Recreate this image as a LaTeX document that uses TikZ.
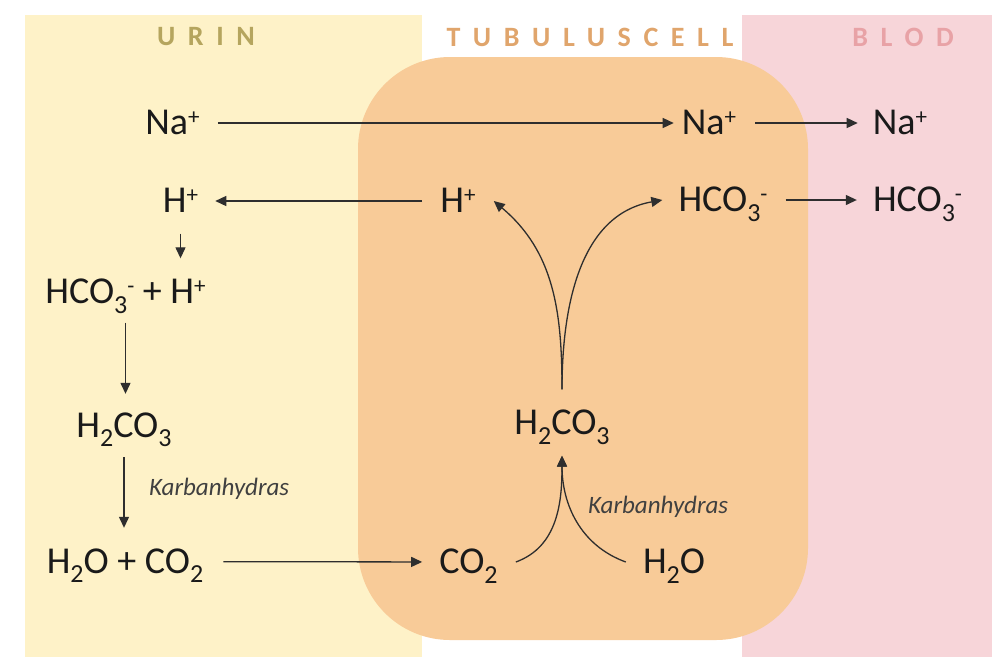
\documentclass[tikz,border=0pt]{standalone}
\usepackage{fontspec}
\setmainfont{Carlito}
\newfontfamily\headfont[LetterSpace=45]{Carlito}
\usetikzlibrary{arrows.meta}
\definecolor{urinbg}{HTML}{FEF2C8}
\definecolor{cellbg}{HTML}{F8CB98}
\definecolor{blodbg}{HTML}{F7D5D9}
\definecolor{urinhd}{HTML}{B5A55E}
\definecolor{cellhd}{HTML}{E0A56C}
\definecolor{blodhd}{HTML}{E8A2A6}
\definecolor{ink}{HTML}{1A1A1A}
\definecolor{wire}{HTML}{2E2E2E}
\definecolor{note}{HTML}{404040}
\newcommand\hoch[1]{\raisebox{.27em}{\fontsize{23pt}{23pt}\selectfont#1}}
\newcommand\tief[1]{\raisebox{-.25em}{\fontsize{26pt}{26pt}\selectfont#1}}
\tikzset{
  head/.style={font=\headfont\bfseries\fontsize{28pt}{30pt}\selectfont,inner sep=0pt},
  ion/.style={font=\fontsize{38pt}{42pt}\selectfont,text=ink,inner sep=0pt,text height=23pt,text depth=0pt},
  enz/.style={font=\itshape\fontsize{25pt}{28pt}\selectfont,text=note,inner sep=0pt},
  ar/.style={-{Triangle[length=11pt,width=10pt]},draw=wire,line width=1.3pt,shorten <=18pt,shorten >=17pt},
  cv/.style={-{Triangle[length=11pt,width=10pt]},draw=wire,line width=1.3pt},
}
\begin{document}
\begin{tikzpicture}[x=1pt,y=-1pt]
  \useasboundingbox (0,0) rectangle (992,670);
  % zones
  \fill[urinbg] (25,15) rectangle (422,657);
  \fill[blodbg] (742,15) rectangle (992,657);
  \fill[cellbg,rounded corners=92pt] (358,57) rectangle (808,640);
  \node[head,text=urinhd] (urin) at (206,37) {URIN};
  \node[head,text=cellhd] (cell) at (590,37) {TUBULUSCELL};
  \node[head,text=blodhd] (blod) at (903,37) {BLOD};

  % urin
  \node[ion] (naU) at (172.5,123) {Na\hoch{+}};
  \node[ion] (hU) at (180.5,201) {H\hoch{+}};
  \node[ion] (sumU) at (125.5,292) {HCO\tief{3}\hoch{-} + H\hoch{+}};
  \node[ion] (h2co3U) at (124,425.5) {H\tief{2}CO\tief{3}};
  \node[ion] (prodU) at (125,561.5) {H\tief{2}O + CO\tief{2}};
  \node[enz,anchor=base west] (karbU) at (149,495) {Karbanhydras};

  % tubuluscell
  \node[ion] (naC) at (709,123) {Na\hoch{+}};
  \node[ion] (hC) at (458,201) {H\hoch{+}};
  \node[ion] (hco3C) at (723,200) {HCO\tief{3}\hoch{-}};
  \node[ion] (h2co3C) at (562,423) {H\tief{2}CO\tief{3}};
  \node[ion] (co2C) at (468.5,562) {CO\tief{2}};
  \node[ion] (h2oC) at (674,562) {H\tief{2}O};
  \node[enz,anchor=base west] (karbC) at (588,513) {Karbanhydras};

  % blod
  \node[ion] (naB) at (900,123) {Na\hoch{+}};
  \node[ion] (hco3B) at (917.5,200) {HCO\tief{3}\hoch{-}};

  \draw[ar,shorten >=8pt] (naU) -- (naC);
  \draw[ar,shorten <=19pt,shorten >=15pt] (naC) -- (naB);
  \draw[ar] (hC) -- (hU);
  \draw[ar,shorten >=16pt] (hco3C) -- (hco3B);
  \draw[ar,shorten <=20pt] (prodU) -- (co2C);
  \draw[ar,shorten <=21pt,shorten >=22pt] (hU.south) -- (hU.south |- sumU.north);
  \draw[ar,shorten <=19pt,shorten >=20pt] (sumU.south) -- (sumU.south |- h2co3U.north);
  \draw[ar,shorten <=20pt,shorten >=22pt] (h2co3U.south) -- (h2co3U.south |- prodU.north);

  \draw[cv] ([xshift=18pt]co2C.east) to[out=20,in=-90] ([yshift=-21pt]h2co3C.south);
  \draw[cv] ([xshift=-17pt]h2oC.west) to[out=160,in=-90] ([yshift=-21pt]h2co3C.south);
  \draw[cv] ([yshift=22pt]h2co3C.north) to[out=90,in=-40] ([xshift=18pt]hC.east);
  \draw[cv] ([yshift=22pt]h2co3C.north) to[out=90,in=190] ([xshift=-16pt]hco3C.west);
\end{tikzpicture}
\end{document}
